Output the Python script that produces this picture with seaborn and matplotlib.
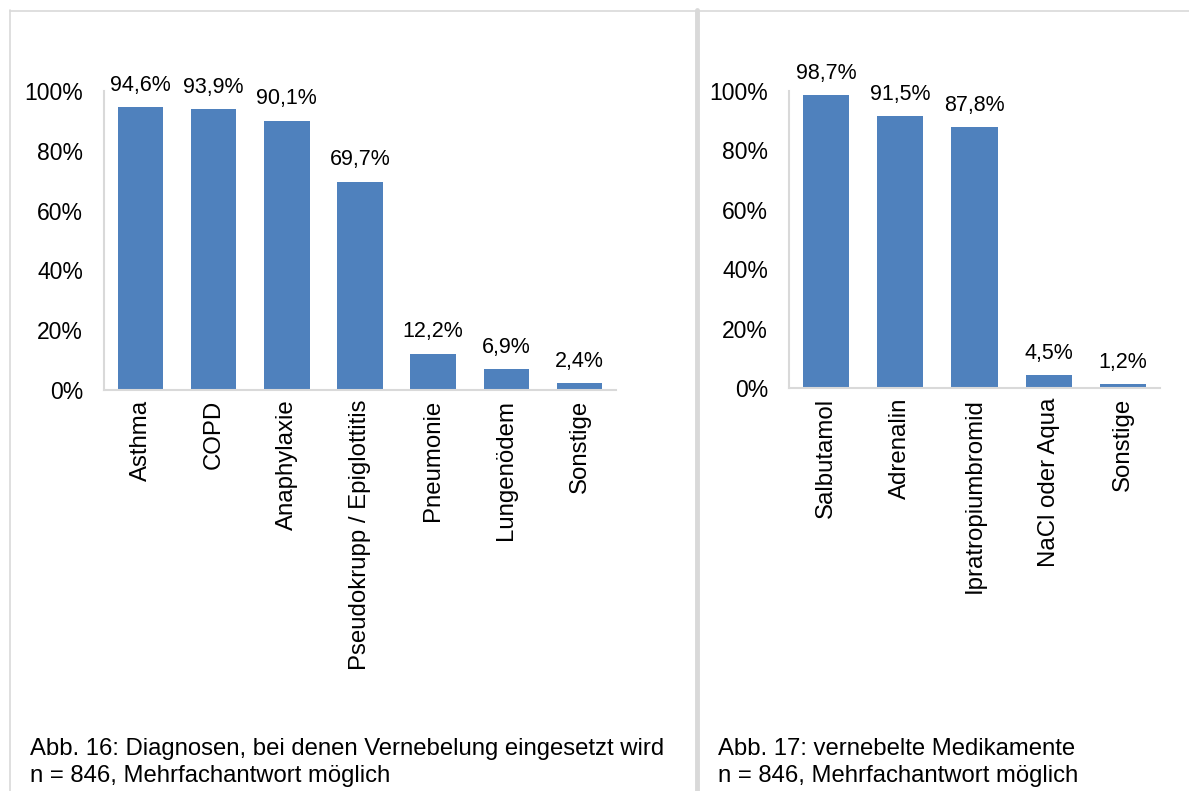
import matplotlib
matplotlib.use("Agg")
import matplotlib.pyplot as plt
from matplotlib.lines import Line2D
import seaborn as sns
import pandas as pd

# ---- data ----
diag_categories = ["Asthma", "COPD", "Anaphylaxie", "Pseudokrupp / Epiglottitis",
                   "Pneumonie", "Lungenödem", "Sonstige"]
diag_values = [94.6, 93.9, 90.1, 69.7, 12.2, 6.9, 2.4]

med_categories = ["Salbutamol", "Adrenalin", "Ipratropiumbromid", "NaCl oder Aqua", "Sonstige"]
med_values = [98.7, 91.5, 87.8, 4.5, 1.2]

y_ticks = [0, 20, 40, 60, 80, 100]
y_ticklabels = ["0%", "20%", "40%", "60%", "80%", "100%"]

caption_left = "Abb. 16: Diagnosen, bei denen Vernebelung eingesetzt wird\nn = 846, Mehrfachantwort möglich"
caption_right = "Abb. 17: vernebelte Medikamente\nn = 846, Mehrfachantwort möglich"

# ---- style ----
sns.set_style("white")
plt.rcParams["font.family"] = ["Liberation Sans", "DejaVu Sans"]
plt.rcParams["text.color"] = "black"
plt.rcParams["xtick.color"] = "black"
plt.rcParams["ytick.color"] = "black"

W, H = 1189, 791
fig = plt.figure(figsize=(W / 100, H / 100), dpi=100)
fig.patch.set_facecolor("white")

BAR = "#4f81bd"
GRID = "#d9d9d9"


def px_axes(x0, x1, ytop, ybot):
    return fig.add_axes([x0 / W, (H - ybot) / H, (x1 - x0) / W, (ybot - ytop) / H])


def draw(ax, cats, vals):
    df = pd.DataFrame({"cat": cats, "val": vals})
    sns.barplot(data=df, x="cat", y="val", color=BAR, width=0.62, ax=ax,
                saturation=1, edgecolor="none")
    ax.set_ylim(0, 100)
    ax.set_xlim(-0.5, len(cats) - 0.5)
    ax.set_yticks(y_ticks)
    ax.set_yticklabels(y_ticklabels, fontsize=16.5, color="black")
    ax.set_xticks(range(len(cats)))
    ax.set_xticklabels(cats, rotation=90, fontsize=17.3, color="black")
    ax.tick_params(axis="y", length=0, pad=15)
    ax.tick_params(axis="x", length=0, pad=7)
    ax.set_xlabel("")
    ax.set_ylabel("")
    for s in ["top", "right"]:
        ax.spines[s].set_visible(False)
    for s in ["left", "bottom"]:
        ax.spines[s].set_color(GRID)
        ax.spines[s].set_linewidth(1.5)
    labels = [f"{v:.1f}".replace(".", ",") + "%" for v in vals]
    ax.bar_label(ax.containers[0], labels=labels, padding=8, fontsize=15.5,
                 color="black")
    ax.patch.set_alpha(0)


ax1 = px_axes(104, 616, 91, 390)
draw(ax1, diag_categories, diag_values)

ax2 = px_axes(789, 1160, 91, 388)
draw(ax2, med_categories, med_values)

# frame lines
def fig_line(x0, y0, x1, y1, lw, color=GRID):
    fig.add_artist(Line2D([x0 / W, x1 / W], [1 - y0 / H, 1 - y1 / H],
                          transform=fig.transFigure, color=color, lw=lw))

fig_line(10, 10.5, W, 10.5, 1.2)
fig_line(10, 10, 10, H, 1.2)
fig_line(697, 10, 697, H, 3.5)

fig.text(30 / W, 1 - 738 / H, caption_left, fontsize=17.2, va="top", ha="left",
         linespacing=1.28, color="black")
fig.text(718 / W, 1 - 738 / H, caption_right, fontsize=17.2, va="top", ha="left",
         linespacing=1.28, color="black")

fig.savefig("out.png", dpi=100)
